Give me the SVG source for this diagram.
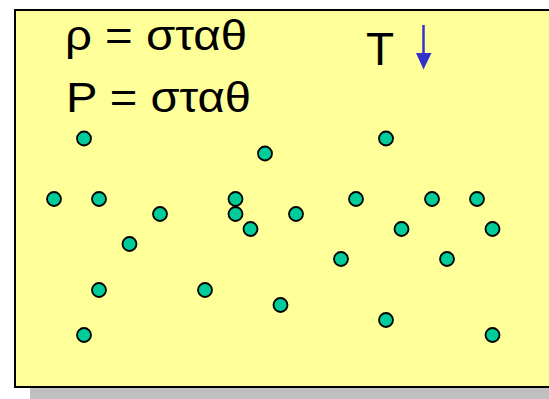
<svg xmlns="http://www.w3.org/2000/svg" width="549" height="399" viewBox="0 0 549 399">
<defs>
<style>
.t{font-family:"Liberation Sans",Arial,sans-serif;fill:#000}
.p{fill:#00CC99;stroke:#000;stroke-width:1.8}
</style>
</defs>
<rect x="30" y="25" width="540" height="374" fill="#C0C0C0"/>
<rect x="15" y="10" width="560" height="377" fill="#FFFF99" stroke="#000" stroke-width="2"/>
<g id="rho"><text class="t" x="65" y="50" font-size="42" textLength="182" lengthAdjust="spacingAndGlyphs">ρ = σταθ</text></g>
<g id="P"><text class="t" x="66" y="112" font-size="42" textLength="185" lengthAdjust="spacingAndGlyphs">P = σταθ</text></g>
<g id="T"><text class="t" x="366" y="65" font-size="46">T</text></g>
<g id="arrow">
<line x1="423.5" y1="25" x2="423.5" y2="55" stroke="#3333CC" stroke-width="2.5"/>
<polygon points="416,53 431.5,53 423.5,69.5" fill="#3333CC"/>
</g>
<g id="particles">
<circle class="p" cx="84" cy="138.5" r="7"/>
<circle class="p" cx="265" cy="153.5" r="7"/>
<circle class="p" cx="386" cy="138.5" r="7"/>
<circle class="p" cx="54" cy="199" r="7"/>
<circle class="p" cx="99" cy="199" r="7"/>
<circle class="p" cx="160" cy="214" r="7"/>
<circle class="p" cx="235.5" cy="199" r="7"/>
<circle class="p" cx="235.5" cy="214" r="7"/>
<circle class="p" cx="250.5" cy="229" r="7"/>
<circle class="p" cx="296" cy="214" r="7"/>
<circle class="p" cx="356" cy="199" r="7"/>
<circle class="p" cx="432" cy="199" r="7"/>
<circle class="p" cx="477" cy="199" r="7"/>
<circle class="p" cx="129.5" cy="244" r="7"/>
<circle class="p" cx="401.5" cy="229" r="7"/>
<circle class="p" cx="492.5" cy="229" r="7"/>
<circle class="p" cx="341" cy="259" r="7"/>
<circle class="p" cx="447" cy="259" r="7"/>
<circle class="p" cx="99" cy="290" r="7"/>
<circle class="p" cx="205" cy="290" r="7"/>
<circle class="p" cx="280.5" cy="305" r="7"/>
<circle class="p" cx="386" cy="320" r="7"/>
<circle class="p" cx="84" cy="335" r="7"/>
<circle class="p" cx="492.5" cy="335" r="7"/>
</g>
</svg>
